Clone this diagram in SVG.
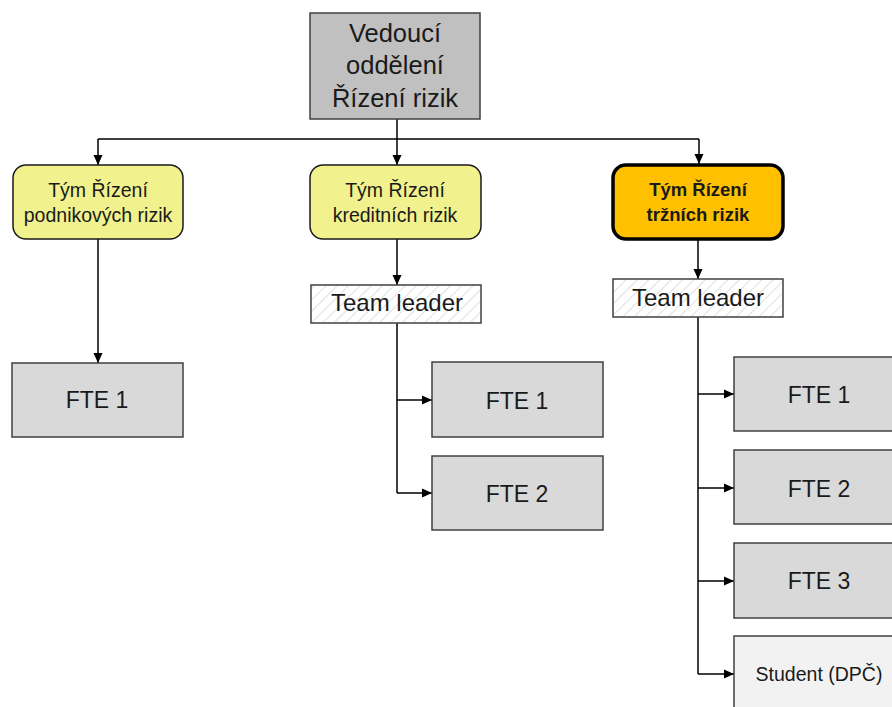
<svg xmlns="http://www.w3.org/2000/svg" width="892" height="707" viewBox="0 0 892 707">
<style>
text{font-family:"Liberation Sans",Arial,sans-serif;fill:#1a1a1a;text-anchor:middle}
.top{fill:#c0c0c0;stroke:#404040;stroke-width:1.5}
.team{fill:#f1f28e;stroke:#1a1a1a;stroke-width:1.5}
.mkt{fill:#ffc000;stroke:#000;stroke-width:3.5}
.tl{fill:url(#hatch);stroke:#404040;stroke-width:1.5}
.fte{fill:#d9d9d9;stroke:#404040;stroke-width:1.5}
.stu{fill:#f2f2f2;stroke:#404040;stroke-width:1.5}
.c{fill:none;stroke:#000;stroke-width:1.5}
.a{marker-end:url(#arr)}
.t25{font-size:25.5px}
.t19{font-size:19.5px}
.t18b{font-size:18.5px;font-weight:bold}
.t23{font-size:24px}
.t22{font-size:23px}
</style>
<defs>
<marker id="arr" markerWidth="10" markerHeight="10" viewBox="0 0 10 10" refX="10" refY="5" orient="auto" markerUnits="userSpaceOnUse">
<path d="M0,0.5 L10,5 L0,9.5 Z" fill="#000"/>
</marker>
<pattern id="hatch" width="8" height="8" patternUnits="userSpaceOnUse" patternTransform="rotate(45)">
<rect width="8" height="8" fill="#fff"/>
<line x1="0" y1="0" x2="0" y2="8" stroke="#d6d6d6" stroke-width="1.5"/>
</pattern>
</defs>
<g id="connectors">
<path class="c" d="M397,119 V139 M98,139 H699"/>
<path class="c a" d="M397,139 V165"/>
<path class="c a" d="M98,139 V165"/>
<path class="c a" d="M699,139 V164"/>
<path class="c a" d="M98,239 V363"/>
<path class="c a" d="M397,239 V285"/>
<path class="c" d="M397,323 V493"/>
<path class="c a" d="M397,400 H432"/>
<path class="c a" d="M397,493 H432"/>
<path class="c a" d="M698,240 V279"/>
<path class="c" d="M698,317 V674"/>
<path class="c a" d="M698,394 H734"/>
<path class="c a" d="M698,488 H734"/>
<path class="c a" d="M698,581 H734"/>
<path class="c a" d="M698,674 H734"/>
</g>
<g id="head">
<rect class="top" x="310" y="13" width="170" height="106"/>
<text class="t25" x="395" y="42">Vedoucí</text>
<text class="t25" x="395" y="74">oddělení</text>
<text class="t25" x="395" y="107">Řízení rizik</text>
</g>
<g id="team-podnik">
<rect class="team" x="13" y="165" width="170" height="74" rx="13"/>
<text class="t19" x="98" y="197">Tým Řízení</text>
<text class="t19" x="98" y="222">podnikových rizik</text>
</g>
<g id="team-kredit">
<rect class="team" x="310" y="165" width="171" height="74" rx="13"/>
<text class="t19" x="395" y="197">Tým Řízení</text>
<text class="t19" x="395" y="222">kreditních rizik</text>
</g>
<g id="team-trzni">
<rect class="mkt" x="613" y="165" width="170" height="74" rx="13"/>
<text class="t18b" x="698" y="196">Tým Řízení</text>
<text class="t18b" x="698" y="221">tržních rizik</text>
</g>
<g id="podnik-fte1">
<rect class="fte" x="12" y="363" width="171" height="74"/>
<text class="t22" x="97" y="408">FTE 1</text>
</g>
<g id="kredit-tl">
<rect class="tl" x="311" y="285" width="170" height="38"/>
<text class="t23" x="397" y="311">Team leader</text>
</g>
<g id="kredit-fte1">
<rect class="fte" x="432" y="362" width="171" height="75"/>
<text class="t22" x="517" y="409">FTE 1</text>
</g>
<g id="kredit-fte2">
<rect class="fte" x="432" y="456" width="171" height="74"/>
<text class="t22" x="517" y="502">FTE 2</text>
</g>
<g id="trzni-tl">
<rect class="tl" x="613" y="279" width="170" height="38"/>
<text class="t23" x="698" y="306">Team leader</text>
</g>
<g id="trzni-fte1">
<rect class="fte" x="734" y="357" width="162" height="74"/>
<text class="t22" x="819" y="403">FTE 1</text>
</g>
<g id="trzni-fte2">
<rect class="fte" x="734" y="450" width="162" height="74"/>
<text class="t22" x="819" y="497">FTE 2</text>
</g>
<g id="trzni-fte3">
<rect class="fte" x="734" y="543" width="162" height="75"/>
<text class="t22" x="819" y="589">FTE 3</text>
</g>
<g id="trzni-student">
<rect class="stu" x="734" y="636" width="162" height="80"/>
<text class="t19" x="819" y="681">Student (DPČ)</text>
</g>
</svg>
